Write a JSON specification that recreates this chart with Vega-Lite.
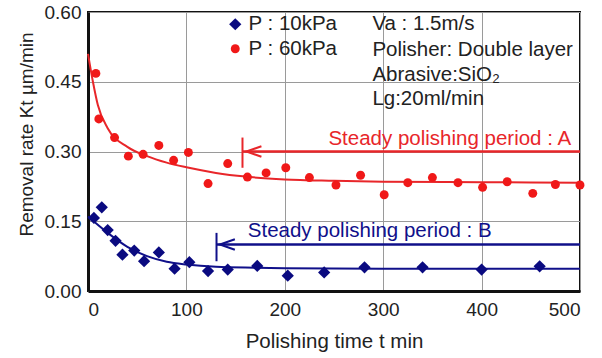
{
  "$schema": "https://vega.github.io/schema/vega-lite/v6.json",
  "width": 492,
  "height": 279,
  "autosize": {"type": "none"},
  "padding": {"left": 88, "top": 12, "right": 22, "bottom": 67},
  "background": "white",
  "config": {
    "font": "Liberation Sans",
    "view": {"stroke": "#111", "strokeWidth": 2},
    "axis": {
      "grid": true, "gridColor": "#9a9a9a", "gridWidth": 1,
      "domain": true, "domainColor": "#111", "domainWidth": 3,
      "ticks": false, "labelFontSize": 19, "labelColor": "#222",
      "titleFontSize": 19, "titleFontWeight": "normal", "titleColor": "#222"
    }
  },
  "datasets": {
    "pts": [
      {"t": 8, "kt": 0.468, "series": "P : 60kPa"},
      {"t": 11, "kt": 0.37, "series": "P : 60kPa"},
      {"t": 27, "kt": 0.33, "series": "P : 60kPa"},
      {"t": 41, "kt": 0.29, "series": "P : 60kPa"},
      {"t": 56, "kt": 0.294, "series": "P : 60kPa"},
      {"t": 72, "kt": 0.313, "series": "P : 60kPa"},
      {"t": 87, "kt": 0.281, "series": "P : 60kPa"},
      {"t": 102, "kt": 0.298, "series": "P : 60kPa"},
      {"t": 122, "kt": 0.231, "series": "P : 60kPa"},
      {"t": 142, "kt": 0.274, "series": "P : 60kPa"},
      {"t": 162, "kt": 0.245, "series": "P : 60kPa"},
      {"t": 181, "kt": 0.254, "series": "P : 60kPa"},
      {"t": 201, "kt": 0.265, "series": "P : 60kPa"},
      {"t": 225, "kt": 0.244, "series": "P : 60kPa"},
      {"t": 252, "kt": 0.228, "series": "P : 60kPa"},
      {"t": 277, "kt": 0.249, "series": "P : 60kPa"},
      {"t": 301, "kt": 0.207, "series": "P : 60kPa"},
      {"t": 325, "kt": 0.233, "series": "P : 60kPa"},
      {"t": 350, "kt": 0.244, "series": "P : 60kPa"},
      {"t": 376, "kt": 0.233, "series": "P : 60kPa"},
      {"t": 401, "kt": 0.223, "series": "P : 60kPa"},
      {"t": 426, "kt": 0.235, "series": "P : 60kPa"},
      {"t": 452, "kt": 0.21, "series": "P : 60kPa"},
      {"t": 475, "kt": 0.229, "series": "P : 60kPa"},
      {"t": 500, "kt": 0.228, "series": "P : 60kPa"},
      {"t": 6, "kt": 0.157, "series": "P : 10kPa"},
      {"t": 14, "kt": 0.18, "series": "P : 10kPa"},
      {"t": 20, "kt": 0.131, "series": "P : 10kPa"},
      {"t": 28, "kt": 0.108, "series": "P : 10kPa"},
      {"t": 35, "kt": 0.078, "series": "P : 10kPa"},
      {"t": 47, "kt": 0.087, "series": "P : 10kPa"},
      {"t": 57, "kt": 0.064, "series": "P : 10kPa"},
      {"t": 72, "kt": 0.083, "series": "P : 10kPa"},
      {"t": 88, "kt": 0.048, "series": "P : 10kPa"},
      {"t": 103, "kt": 0.062, "series": "P : 10kPa"},
      {"t": 122, "kt": 0.043, "series": "P : 10kPa"},
      {"t": 142, "kt": 0.046, "series": "P : 10kPa"},
      {"t": 172, "kt": 0.054, "series": "P : 10kPa"},
      {"t": 203, "kt": 0.033, "series": "P : 10kPa"},
      {"t": 240, "kt": 0.04, "series": "P : 10kPa"},
      {"t": 281, "kt": 0.051, "series": "P : 10kPa"},
      {"t": 340, "kt": 0.051, "series": "P : 10kPa"},
      {"t": 400, "kt": 0.046, "series": "P : 10kPa"},
      {"t": 459, "kt": 0.053, "series": "P : 10kPa"}
    ],
    "fitA": [
      {"t": 0, "kt": 0.51}, {"t": 5, "kt": 0.45}, {"t": 10, "kt": 0.40},
      {"t": 20, "kt": 0.35}, {"t": 40, "kt": 0.31}, {"t": 60, "kt": 0.29},
      {"t": 80, "kt": 0.276}, {"t": 100, "kt": 0.266}, {"t": 130, "kt": 0.254},
      {"t": 160, "kt": 0.246}, {"t": 200, "kt": 0.240}, {"t": 250, "kt": 0.237},
      {"t": 300, "kt": 0.235}, {"t": 400, "kt": 0.234}, {"t": 500, "kt": 0.233}
    ],
    "fitB": [
      {"t": 0, "kt": 0.16}, {"t": 20, "kt": 0.125}, {"t": 40, "kt": 0.095},
      {"t": 60, "kt": 0.075}, {"t": 80, "kt": 0.063}, {"t": 100, "kt": 0.057},
      {"t": 130, "kt": 0.052}, {"t": 170, "kt": 0.05}, {"t": 200, "kt": 0.049},
      {"t": 300, "kt": 0.048}, {"t": 400, "kt": 0.048}, {"t": 500, "kt": 0.048}
    ],
    "hlines": [
      {"x": 157, "x2": 500, "y": 0.30, "c": "A"},
      {"x": 130.6, "x2": 500, "y": 0.10, "c": "B"}
    ],
    "vbars": [
      {"x": 157, "y": 0.33, "y2": 0.265, "c": "A"},
      {"x": 130.6, "y": 0.125, "y2": 0.064, "c": "B"}
    ],
    "heads": [
      {"x": 161, "y": 0.30, "c": "A"},
      {"x": 134, "y": 0.10, "c": "B"}
    ],
    "labelA": [
      {"x": 491, "y": 0.327, "text": "Steady polishing period : A", "c": "A"}
    ],
    "labelB": [
      {"x": 162.4, "y": 0.129, "text": "Steady polishing period : B", "c": "B"}
    ],
    "notes": [
      {"x": 289, "y": 0.574, "text": "Va : 1.5m/s"},
      {"x": 289, "y": 0.518, "text": "Polisher: Double layer"},
      {"x": 289, "y": 0.464, "text": "Abrasive:SiO₂"},
      {"x": 289, "y": 0.412, "text": "Lg:20ml/min"}
    ]
  },
  "layer": [
    {
      "data": {"name": "fitA"},
      "mark": {"type": "line", "color": "#e8262a", "strokeWidth": 2, "interpolate": "monotone"},
      "encoding": {
        "x": {"field": "t", "type": "quantitative", "scale": {"domain": [0, 500], "nice": false},
              "axis": {"values": [0, 100, 200, 300, 400, 500], "title": "Polishing time t min", "titleFontSize": 20.5, "labelPadding": 9, "titlePadding": 12}},
        "y": {"field": "kt", "type": "quantitative", "scale": {"domain": [0, 0.6], "nice": false},
              "axis": {"values": [0, 0.15, 0.3, 0.45, 0.6], "format": ".2f", "title": "Removal rate Kt µm/min", "labelPadding": 7, "titleX": -62, "titleY": 122, "titleAlign": "center", "titleBaseline": "middle", "titleAngle": -90}}
      }
    },
    {
      "data": {"name": "fitB"},
      "mark": {"type": "line", "color": "#10108a", "strokeWidth": 2, "interpolate": "monotone"},
      "encoding": {
        "x": {"field": "t", "type": "quantitative"},
        "y": {"field": "kt", "type": "quantitative"}
      }
    },
    {
      "data": {"name": "hlines"},
      "mark": {"type": "rule", "strokeWidth": 2.5},
      "encoding": {
        "x": {"field": "x", "type": "quantitative"},
        "x2": {"field": "x2"},
        "y": {"field": "y", "type": "quantitative"},
        "color": {"field": "c", "type": "nominal", "scale": {"domain": ["A", "B"], "range": ["#e8262a", "#10108a"]}, "legend": null}
      }
    },
    {
      "data": {"name": "vbars"},
      "mark": {"type": "rule", "strokeWidth": 2},
      "encoding": {
        "x": {"field": "x", "type": "quantitative"},
        "y": {"field": "y", "type": "quantitative"},
        "y2": {"field": "y2"},
        "color": {"field": "c", "type": "nominal", "legend": null}
      }
    },
    {
      "data": {"name": "heads"},
      "mark": {"type": "point", "shape": "M2,-0.7L0,0L2,0.7", "filled": false, "size": 225, "strokeWidth": 2, "opacity": 1},
      "encoding": {
        "x": {"field": "x", "type": "quantitative"},
        "y": {"field": "y", "type": "quantitative"},
        "color": {"field": "c", "type": "nominal", "legend": null}
      }
    },
    {
      "data": {"name": "labelA"},
      "mark": {"type": "text", "fontSize": 20.5, "baseline": "middle", "align": "right"},
      "encoding": {
        "x": {"field": "x", "type": "quantitative"},
        "y": {"field": "y", "type": "quantitative"},
        "text": {"field": "text"},
        "color": {"field": "c", "type": "nominal", "legend": null}
      }
    },
    {
      "data": {"name": "labelB"},
      "mark": {"type": "text", "fontSize": 20.5, "baseline": "middle", "align": "left"},
      "encoding": {
        "x": {"field": "x", "type": "quantitative"},
        "y": {"field": "y", "type": "quantitative"},
        "text": {"field": "text"},
        "color": {"field": "c", "type": "nominal", "legend": null}
      }
    },
    {
      "data": {"name": "notes"},
      "mark": {"type": "text", "fontSize": 20.5, "align": "left", "baseline": "middle", "color": "#222"},
      "encoding": {
        "x": {"field": "x", "type": "quantitative"},
        "y": {"field": "y", "type": "quantitative"},
        "text": {"field": "text"}
      }
    },
    {
      "data": {"name": "pts"},
      "mark": {"type": "point", "filled": true, "opacity": 1},
      "encoding": {
        "x": {"field": "t", "type": "quantitative"},
        "y": {"field": "kt", "type": "quantitative"},
        "fill": {"field": "series", "type": "nominal",
                  "scale": {"domain": ["P : 10kPa", "P : 60kPa"], "range": ["#0a0a80", "#f01818"]},
                  "legend": {"orient": "none", "legendX": 137, "legendY": 2, "title": null, "labelFontSize": 20.5, "labelColor": "#222", "rowPadding": 3.5, "padding": 0, "labelOffset": 3, "symbolStrokeWidth": 0}},
        "shape": {"field": "series", "type": "nominal",
                  "scale": {"domain": ["P : 10kPa", "P : 60kPa"], "range": ["diamond", "circle"]},
                  "legend": {"orient": "none", "legendX": 137, "legendY": 2, "title": null, "labelFontSize": 20.5, "labelColor": "#222", "rowPadding": 3.5, "padding": 0, "labelOffset": 3, "symbolStrokeWidth": 0}},
        "size": {"field": "series", "type": "nominal",
                 "scale": {"domain": ["P : 10kPa", "P : 60kPa"], "range": [150, 80]},
                  "legend": {"orient": "none", "legendX": 137, "legendY": 2, "title": null, "labelFontSize": 20.5, "labelColor": "#222", "rowPadding": 3.5, "padding": 0, "labelOffset": 3, "symbolStrokeWidth": 0}}
      }
    }
  ]
}
